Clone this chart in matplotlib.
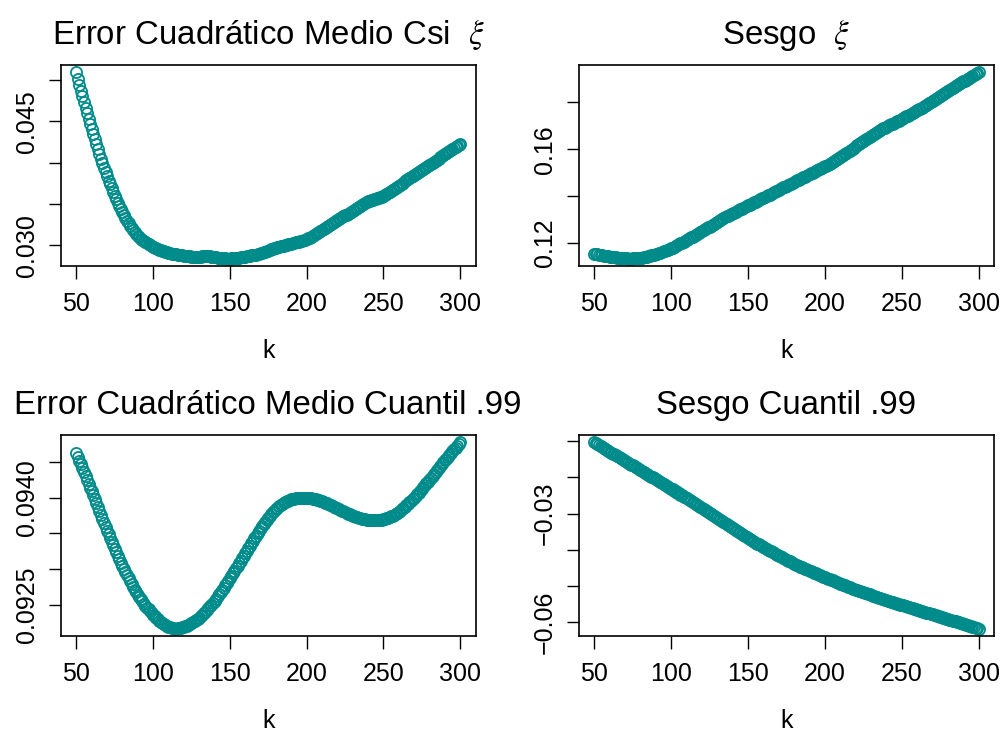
import matplotlib
matplotlib.use("Agg")
import matplotlib.pyplot as plt

plt.rcParams["font.family"] = ["Liberation Sans", "DejaVu Sans"]
plt.rcParams["mathtext.fontset"] = "stix"

k = list(range(50, 301))

ecm_xi = [
    0.05091, 0.05016, 0.04943, 0.04871, 0.04801, 0.04732, 0.04664, 0.04597, 0.04531, 0.04467, 0.04404,
    0.04342, 0.04281, 0.04221, 0.04162, 0.04104,
    0.04047, 0.03992, 0.03938, 0.03885, 0.03834,
    0.03784, 0.03736, 0.03689, 0.03644, 0.03600,
    0.03557, 0.03516, 0.03476, 0.03438, 0.03401,
    0.03365, 0.03331, 0.03298, 0.03266, 0.03236,
    0.03208, 0.03182, 0.03158, 0.03136, 0.03116,
    0.03098, 0.03081, 0.03065, 0.03050, 0.03036,
    0.03023, 0.03011, 0.03000, 0.02990, 0.02980,
    0.02971, 0.02962, 0.02954, 0.02946, 0.02939,
    0.02932, 0.02926, 0.02920, 0.02915, 0.02910, 0.02905, 0.02901, 0.02897, 0.02894, 0.02891,
    0.02888, 0.02885, 0.02882, 0.02879, 0.02876, 0.02873, 0.02870, 0.02868, 0.02866, 0.02864,
    0.02862, 0.02861, 0.02860, 0.02860, 0.02861,
    0.02863, 0.02865, 0.02867, 0.02868, 0.02868,
    0.02867, 0.02865, 0.02862, 0.02859, 0.02856,
    0.02853, 0.02850, 0.02848, 0.02846, 0.02844, 0.02842, 0.02841, 0.02840, 0.02840, 0.02840,
    0.02841, 0.02842, 0.02844, 0.02846, 0.02848, 0.02851, 0.02854, 0.02857, 0.02860, 0.02863,
    0.02866, 0.02869, 0.02873, 0.02877, 0.02881, 0.02885, 0.02889, 0.02894, 0.02899, 0.02904,
    0.02910, 0.02916, 0.02922, 0.02929, 0.02936, 0.02943, 0.02950, 0.02957, 0.02963, 0.02969,
    0.02975, 0.02981, 0.02986, 0.02991,
    0.02996, 0.03001, 0.03006, 0.03011, 0.03016, 0.03021, 0.03026, 0.03031, 0.03036, 0.03041,
    0.03046, 0.03051, 0.03057, 0.03063, 0.03069, 0.03076,
    0.03083, 0.03091, 0.03100, 0.03110, 0.03121, 0.03133, 0.03146, 0.03159, 0.03172, 0.03185,
    0.03198, 0.03211, 0.03224, 0.03237, 0.03250, 0.03262,
    0.03273, 0.03284, 0.03295, 0.03306, 0.03317, 0.03328, 0.03339, 0.03350, 0.03361, 0.03372, 0.03384,
    0.03396, 0.03408, 0.03420, 0.03432, 0.03444, 0.03456, 0.03468, 0.03480, 0.03492, 0.03504, 0.03515,
    0.03524, 0.03532, 0.03539, 0.03546, 0.03552, 0.03558, 0.03564, 0.03570, 0.03576, 0.03582, 0.03588, 0.03594,
    0.03606, 0.03618, 0.03630, 0.03642, 0.03654, 0.03667, 0.03680, 0.03693, 0.03706, 0.03719,
    0.03732, 0.03746, 0.03759, 0.03773, 0.03786, 0.03800, 0.03813, 0.03827, 0.03840, 0.03854,
    0.03866, 0.03878, 0.03890, 0.03902, 0.03914, 0.03926, 0.03938, 0.03950, 0.03962, 0.03974, 0.03986,
    0.03998, 0.04011, 0.04024, 0.04037, 0.04050, 0.04063, 0.04076, 0.04089, 0.04102, 0.04115,
    0.04128, 0.04141, 0.04154, 0.04167, 0.04180, 0.04193, 0.04206, 0.04218, 0.04230,
]

sesgo_xi = [
    0.11550, 0.11535, 0.11520, 0.11506, 0.11492, 0.11479, 0.11466, 0.11454, 0.11442, 0.11431,
    0.11420, 0.11410, 0.11400, 0.11391, 0.11382, 0.11374, 0.11366, 0.11359, 0.11353, 0.11347,
    0.11342, 0.11339, 0.11337, 0.11336, 0.11337, 0.11339, 0.11343, 0.11348, 0.11354, 0.11362,
    0.11371, 0.11381, 0.11393, 0.11406, 0.11420, 0.11435, 0.11451, 0.11468, 0.11486, 0.11505,
    0.11525, 0.11546, 0.11568, 0.11591, 0.11614, 0.11638, 0.11663, 0.11689, 0.11715, 0.11742,
    0.11770,
    0.11805, 0.11840, 0.11875, 0.11910, 0.11945, 0.11980, 0.12016, 0.12052, 0.12088, 0.12124, 0.12160,
    0.12198, 0.12236, 0.12274, 0.12312, 0.12350, 0.12388, 0.12426, 0.12464, 0.12503, 0.12542, 0.12581,
    0.12621, 0.12661, 0.12701, 0.12741, 0.12781, 0.12821, 0.12861, 0.12901, 0.12941, 0.12981, 0.13020,
    0.13058, 0.13095, 0.13131, 0.13166, 0.13200, 0.13234, 0.13267, 0.13300, 0.13333, 0.13366,
    0.13399, 0.13432, 0.13466, 0.13499, 0.13533, 0.13566, 0.13599, 0.13633, 0.13666, 0.13700,
    0.13733, 0.13766, 0.13800, 0.13833, 0.13867, 0.13900, 0.13933, 0.13967, 0.14000, 0.14034,
    0.14067, 0.14100, 0.14134, 0.14167, 0.14201, 0.14234, 0.14267, 0.14301, 0.14334, 0.14368,
    0.14401, 0.14434, 0.14468, 0.14501, 0.14535, 0.14568, 0.14601, 0.14635, 0.14668, 0.14702,
    0.14735, 0.14768, 0.14802, 0.14835, 0.14869, 0.14902, 0.14935, 0.14969, 0.15002, 0.15036,
    0.15069, 0.15102, 0.15136, 0.15169, 0.15203, 0.15236, 0.15270,
    0.15305, 0.15341, 0.15378, 0.15416, 0.15455, 0.15495, 0.15536, 0.15577, 0.15619, 0.15661,
    0.15704, 0.15747, 0.15791, 0.15835, 0.15880, 0.15925,
    0.15972, 0.16020, 0.16068, 0.16116, 0.16164, 0.16212, 0.16260, 0.16308, 0.16356, 0.16403, 0.16449,
    0.16494, 0.16538, 0.16581, 0.16623, 0.16664, 0.16704, 0.16743, 0.16781, 0.16818, 0.16855, 0.16891,
    0.16925, 0.16958, 0.16990, 0.17022, 0.17054, 0.17086, 0.17118, 0.17150, 0.17183, 0.17216, 0.17250, 0.17285,
    0.17321, 0.17358, 0.17395, 0.17432, 0.17469, 0.17506, 0.17543, 0.17580, 0.17618, 0.17656,
    0.17695, 0.17734, 0.17773, 0.17813, 0.17853, 0.17893, 0.17934, 0.17975, 0.18016, 0.18058,
    0.18101, 0.18144, 0.18187, 0.18230, 0.18273, 0.18316, 0.18359, 0.18402, 0.18445, 0.18488, 0.18530,
    0.18570, 0.18610, 0.18650, 0.18690, 0.18730, 0.18770, 0.18810, 0.18850, 0.18890, 0.18930, 0.18970,
    0.19008, 0.19046, 0.19084, 0.19122, 0.19160, 0.19198, 0.19236, 0.19274,
]

ecm_q99 = [
    0.094624, 0.094570, 0.094516, 0.094462, 0.094408, 0.094354, 0.094300, 0.094246, 0.094192, 0.094139,
    0.094086, 0.094033, 0.093980,
    0.093925, 0.093870, 0.093815, 0.093760, 0.093705, 0.093650, 0.093595, 0.093540,
    0.093488, 0.093437, 0.093386, 0.093336, 0.093286, 0.093237, 0.093188, 0.093140, 0.093093, 0.093047,
    0.093002, 0.092958, 0.092915, 0.092873, 0.092832, 0.092792, 0.092754, 0.092717, 0.092681,
    0.092647, 0.092614, 0.092582, 0.092551, 0.092521, 0.092492, 0.092465, 0.092439,
    0.092414, 0.092390, 0.092367, 0.092345, 0.092324, 0.092304, 0.092285, 0.092267,
    0.092250, 0.092235, 0.092221, 0.092208, 0.092197, 0.092188, 0.092181, 0.092176, 0.092173, 0.092173,
    0.092174, 0.092177, 0.092182, 0.092188, 0.092195, 0.092203, 0.092212, 0.092222, 0.092234, 0.092247,
    0.092261, 0.092276,
    0.092292, 0.092309, 0.092327, 0.092346, 0.092366, 0.092387, 0.092409, 0.092432, 0.092456, 0.092481,
    0.092507, 0.092534, 0.092562, 0.092591, 0.092621, 0.092651, 0.092682, 0.092713, 0.092745, 0.092777,
    0.092809,
    0.092842, 0.092876, 0.092910, 0.092944, 0.092979, 0.093014, 0.093049, 0.093084, 0.093119, 0.093154,
    0.093189,
    0.093224, 0.093259, 0.093294, 0.093329, 0.093364, 0.093399, 0.093434, 0.093469, 0.093503, 0.093537,
    0.093570,
    0.093602, 0.093633, 0.093663, 0.093692, 0.093720, 0.093746, 0.093771, 0.093795, 0.093818, 0.093839,
    0.093859, 0.093877, 0.093894, 0.093909, 0.093923, 0.093936, 0.093947, 0.093957, 0.093966, 0.093974,
    0.093980, 0.093985, 0.093989, 0.093992, 0.093994, 0.093996, 0.093997, 0.093997,
    0.093997, 0.093996, 0.093994, 0.093991, 0.093988, 0.093984, 0.093979, 0.093974, 0.093968, 0.093962,
    0.093954, 0.093947, 0.093939, 0.093930, 0.093921, 0.093912, 0.093902, 0.093893, 0.093882, 0.093871,
    0.093860, 0.093850, 0.093839, 0.093828, 0.093818, 0.093807, 0.093796, 0.093785, 0.093776, 0.093766,
    0.093757, 0.093748, 0.093739, 0.093731, 0.093724, 0.093716, 0.093710, 0.093704, 0.093699, 0.093694,
    0.093690, 0.093687, 0.093684, 0.093682, 0.093681, 0.093681,
    0.093682, 0.093684, 0.093686, 0.093689, 0.093693, 0.093698, 0.093704, 0.093711, 0.093719, 0.093728,
    0.093738, 0.093749, 0.093761, 0.093774, 0.093788, 0.093803, 0.093819, 0.093836, 0.093854, 0.093873,
    0.093893, 0.093913, 0.093934, 0.093955, 0.093977, 0.093999,
    0.094022, 0.094046, 0.094070, 0.094095, 0.094120, 0.094145, 0.094170, 0.094196, 0.094222, 0.094248,
    0.094275, 0.094302, 0.094329, 0.094356, 0.094383, 0.094410, 0.094437, 0.094464, 0.094490, 0.094517,
    0.094543, 0.094569, 0.094595, 0.094621, 0.094646, 0.094671, 0.094696, 0.094720, 0.094744, 0.094768,
]

sesgo_q99 = [
    -0.01040, -0.01065, -0.01091, -0.01116, -0.01142, -0.01167, -0.01192, -0.01218, -0.01243, -0.01269,
    -0.01294, -0.01319, -0.01345, -0.01370, -0.01396, -0.01421, -0.01446, -0.01472, -0.01497, -0.01523,
    -0.01548, -0.01573, -0.01599, -0.01624, -0.01650, -0.01675, -0.01700, -0.01726, -0.01751, -0.01777,
    -0.01802, -0.01827, -0.01853, -0.01878, -0.01904, -0.01929, -0.01954, -0.01980, -0.02005, -0.02031,
    -0.02056, -0.02081, -0.02107, -0.02132, -0.02158, -0.02183, -0.02208, -0.02234, -0.02259, -0.02285,
    -0.02310,
    -0.02337, -0.02365, -0.02392, -0.02420, -0.02447, -0.02475, -0.02502, -0.02530, -0.02557, -0.02585,
    -0.02612, -0.02640, -0.02667, -0.02695, -0.02722, -0.02750, -0.02777, -0.02805, -0.02832, -0.02860,
    -0.02887, -0.02915, -0.02942, -0.02970, -0.02997, -0.03025, -0.03052, -0.03080, -0.03107, -0.03135,
    -0.03162, -0.03190, -0.03217, -0.03245, -0.03272, -0.03300, -0.03327, -0.03355, -0.03382, -0.03410,
    -0.03436, -0.03462, -0.03488, -0.03514, -0.03540, -0.03566, -0.03592, -0.03618, -0.03644, -0.03670,
    -0.03696, -0.03722, -0.03748, -0.03774, -0.03800, -0.03826, -0.03852, -0.03878, -0.03904, -0.03930,
    -0.03953, -0.03976, -0.03999, -0.04022, -0.04045, -0.04068, -0.04091, -0.04114, -0.04137, -0.04160,
    -0.04183, -0.04206, -0.04229, -0.04252, -0.04275, -0.04298, -0.04321, -0.04344, -0.04367, -0.04390,
    -0.04409, -0.04427, -0.04446, -0.04464, -0.04483, -0.04501, -0.04520, -0.04538, -0.04557, -0.04575,
    -0.04594, -0.04612, -0.04631, -0.04649, -0.04668, -0.04686, -0.04705, -0.04723, -0.04742, -0.04760,
    -0.04777, -0.04794, -0.04811, -0.04828, -0.04845, -0.04862, -0.04879, -0.04896, -0.04913, -0.04930,
    -0.04947, -0.04964, -0.04981, -0.04998, -0.05015, -0.05032, -0.05049, -0.05066, -0.05083, -0.05100,
    -0.05115, -0.05129, -0.05144, -0.05158, -0.05173, -0.05187, -0.05202, -0.05216, -0.05231, -0.05245,
    -0.05260, -0.05274, -0.05289, -0.05303, -0.05318, -0.05332, -0.05347, -0.05361, -0.05376, -0.05390,
    -0.05403, -0.05416, -0.05429, -0.05442, -0.05455, -0.05468, -0.05481, -0.05494, -0.05507, -0.05520,
    -0.05533, -0.05546, -0.05559, -0.05572, -0.05585, -0.05598, -0.05611, -0.05624, -0.05637, -0.05650,
    -0.05663, -0.05676, -0.05689, -0.05702, -0.05715, -0.05728, -0.05741, -0.05754, -0.05767, -0.05780,
    -0.05793, -0.05806, -0.05819, -0.05832, -0.05845, -0.05858, -0.05871, -0.05884, -0.05897, -0.05910,
    -0.05923, -0.05936, -0.05949, -0.05962, -0.05975, -0.05988, -0.06001, -0.06014, -0.06027, -0.06040,
    -0.06053, -0.06066, -0.06079, -0.06092, -0.06105, -0.06118, -0.06131, -0.06144, -0.06157, -0.06170,
]

x_ticks = [50, 100, 150, 200, 250, 300]

titles = [
    "Error Cuadrático Medio Csi  $\\xi$",
    "Sesgo  $\\xi$",
    "Error Cuadrático Medio Cuantil .99",
    "Sesgo Cuantil .99",
]
y_ticks = [
    [0.030, 0.035, 0.040, 0.045, 0.050],
    [0.12, 0.14, 0.16, 0.18],
    [0.0925, 0.0930, 0.0935, 0.0940, 0.0945],
    [-0.06, -0.05, -0.04, -0.03, -0.02, -0.01],
]
y_labels = [
    ["0.030", "", "", "0.045", ""],
    ["0.12", "", "0.16", ""],
    ["0.0925", "", "", "0.0940", ""],
    ["\u22120.06", "", "", "\u22120.03", "", ""],
]
series = [ecm_xi, sesgo_xi, ecm_q99, sesgo_q99]

W, H = 1002, 731
fig = plt.figure(figsize=(W / 100, H / 100), dpi=100)
fig.patch.set_facecolor("white")

# panel boxes in pixels: left, top, right, bottom
boxes = [
    (61, 65, 475.5, 266),
    (579, 65, 994, 266),
    (61, 435, 475.5, 636),
    (579, 435, 994, 636),
]

POINT_COLOR = "#008B8B"
TICK_FS = 18
TITLE_FS = 23.8

for i in range(4):
    l, t, r, b = boxes[i]
    ax = fig.add_axes([l / W, 1 - b / H, (r - l) / W, (b - t) / H])
    y = series[i]
    ax.plot(k, y, linestyle="none", marker="o", markersize=8.0,
            markerfacecolor="none", markeredgecolor=POINT_COLOR,
            markeredgewidth=1.3)

    lo, hi = min(y), max(y)
    pad = 0.04 * (hi - lo)
    ax.set_ylim(lo - pad, hi + pad)
    ax.set_xlim(50 - 0.04 * 250, 300 + 0.04 * 250)

    ax.set_xticks(x_ticks)
    ax.set_xticklabels([str(v) for v in x_ticks])
    ax.set_yticks(y_ticks[i])
    ax.set_yticklabels(y_labels[i], rotation=90, va="center")

    ax.tick_params(axis="both", direction="out", length=9, width=1.0,
                   labelsize=TICK_FS, colors="black")
    ax.tick_params(axis="x", pad=10)
    ax.tick_params(axis="y", pad=7)
    for s in ax.spines.values():
        s.set_linewidth(1.2)
        s.set_color("black")

    h = b - t
    ax.text(0.5, 1 + 21 / h, titles[i], transform=ax.transAxes,
            ha="center", va="baseline", fontsize=TITLE_FS)
    ax.text(0.5, -92 / h, "k", transform=ax.transAxes,
            ha="center", va="baseline", fontsize=TICK_FS)

fig.savefig("out.png", dpi=100, facecolor="white")
